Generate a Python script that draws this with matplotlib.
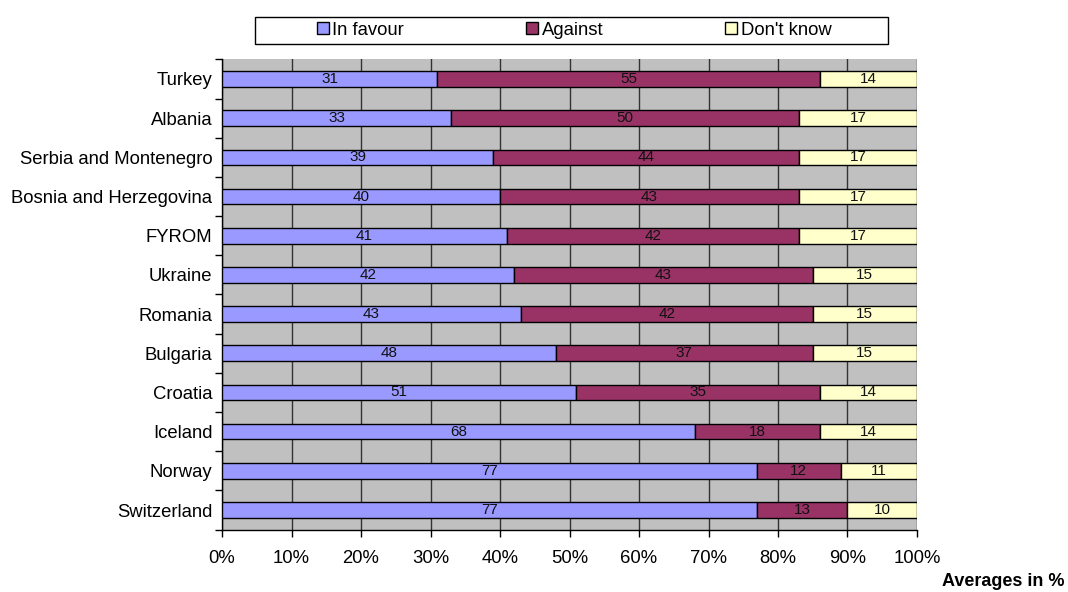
import numpy as np
import matplotlib.pyplot as plt
from matplotlib import rcParams
from matplotlib.patches import Rectangle
params = {'font.family': 'Liberation Sans', 'font.size': 13.3}
rcParams.update(params)

countries = ['Turkey', 'Albania', 'Serbia and Montenegro', 'Bosnia and Herzegovina',
             'FYROM', 'Ukraine', 'Romania', 'Bulgaria', 'Croatia', 'Iceland',
             'Norway', 'Switzerland']
in_favour = [31, 33, 39, 40, 41, 42, 43, 48, 51, 68, 77, 77]
against = [55, 50, 44, 43, 42, 43, 42, 37, 35, 18, 12, 13]
dont_know = [14, 17, 17, 17, 17, 15, 15, 15, 14, 14, 11, 10]
series_names = ['In favour', 'Against', "Don't know"]
colors = ['#9999FF', '#993366', '#FFFFCC']

fig = plt.figure(figsize=(10.68, 5.92), dpi=100)
ax = fig.add_axes([0.2079, 0.1054, 0.6507, 0.7943])
ax.set_facecolor('#C0C0C0')

y = np.arange(len(countries))
left = np.zeros(len(countries))
bars = []
for vals, name, co in zip([in_favour, against, dont_know], series_names, colors):
    vals = np.array(vals, dtype=float)
    b = ax.barh(y, vals, left=left, height=0.4, color=co, edgecolor='black',
                linewidth=1, label=name, zorder=3)
    for yi, l, v in zip(y, left, vals):
        ax.text(l + v / 2, yi, '%d' % v, ha='center', va='center', fontsize=11,
                color='#111111', zorder=4)
    bars.append(b)
    left += vals

ax.set_xlim(0, 100)
ax.set_ylim(len(countries) - 0.5, -0.5)
ax.set_xticks(np.arange(0, 101, 10))
ax.set_xticklabels(['%d%%' % v for v in range(0, 101, 10)])
ax.xaxis.grid(True, color='#333333', linewidth=1, zorder=1)
ax.set_axisbelow(True)
ax.set_yticks(y)
ax.set_yticklabels(countries)
ax.set_yticks(np.arange(-0.5, len(countries)), minor=True)
ax.tick_params(axis='y', which='major', length=0, pad=7)
ax.tick_params(axis='y', which='minor', length=5, width=1, direction='out')
ax.tick_params(axis='x', length=5, width=1, direction='out', pad=10)
for s in ['top', 'right']:
    ax.spines[s].set_visible(False)
ax.spines['left'].set_linewidth(1)
ax.spines['bottom'].set_linewidth(1)

# legend entries without frame, wide box drawn separately
leg = fig.legend(handles=bars, labels=series_names, loc='center',
                 bbox_to_anchor=(0.5375, 0.949), ncol=3, frameon=False,
                 handlelength=0.65, handleheight=0.65, handletextpad=0.2,
                 columnspacing=6.6, borderpad=0.3, borderaxespad=0, fontsize=13.3)
fig.patches.append(Rectangle((0.2388, 0.9257), 0.5927, 0.0456, transform=fig.transFigure,
                             fill=False, edgecolor='black', linewidth=1))

fig.text(0.997, 0.004, 'Averages in %', ha='right', va='bottom',
         fontsize=13, fontweight='bold')

plt.savefig('out.png', dpi=100)
